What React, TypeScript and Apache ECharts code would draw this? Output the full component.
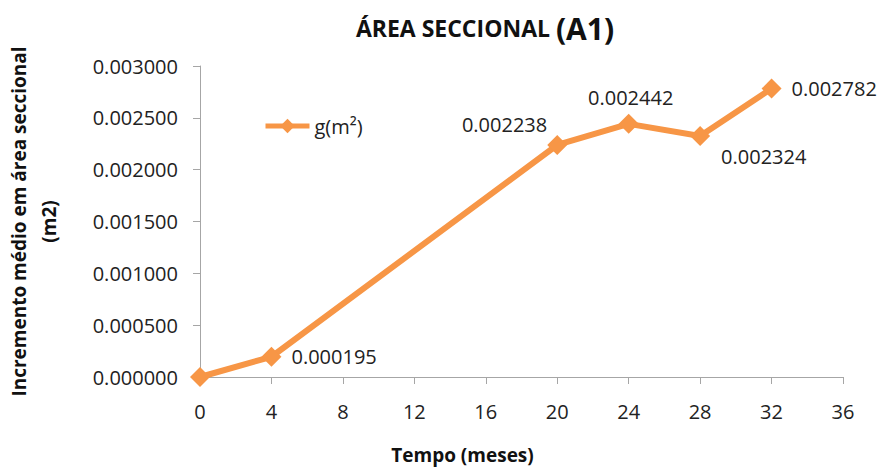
import React, { useEffect, useRef } from "react";
import * as echarts from "echarts";

const months = [0, 4, 20, 24, 28, 32];
const values = [0, 0.000195, 0.002238, 0.002442, 0.002324, 0.002782];
const labelPositions = ["none", "right", "left", "top", "bottomRight", "right"];
const seriesName = "g(m²)";
const titleMain = "ÁREA SECCIONAL ";
const titleSuffix = "(A1)";
const yAxisTitle = "Incremento médio em área seccional\n(m2)";
const xAxisTitle = "Tempo (meses)";

const FONT = "'Open Sans', 'Noto Sans', sans-serif";
const ORANGE = "#f79646";
const AXIS = "#a6a6a6";

export default function App() {
  const ref = useRef<HTMLDivElement>(null);
  useEffect(() => {
    if (!ref.current) return;
    const chart = echarts.init(ref.current, undefined, { renderer: "svg" });
    const data = months.map((m, i) => {
      const pos = labelPositions[i];
      const item: any = { value: [m, values[i]] };
      if (pos === "none") {
        item.label = { show: false };
      } else if (pos === "left") {
        item.label = { show: true, position: "left", distance: 0, offset: [0, -20] };
      } else if (pos === "top") {
        item.label = { show: true, position: "top", distance: 6, offset: [2, 0] };
      } else if (pos === "bottomRight") {
        item.label = { show: true, position: "right", distance: 11, offset: [0, 20] };
      } else {
        item.label = { show: true, position: "right", distance: 10 };
      }
      return item;
    });
    chart.setOption({
      animation: false,
      backgroundColor: "#ffffff",
      title: {
        text: `{a|${titleMain}}{b|${titleSuffix}}`,
        left: 480,
        textAlign: "center",
        top: 8,
        textStyle: {
          rich: {
            a: { fontFamily: FONT, fontSize: 23, fontWeight: "bold", color: "#111" },
            b: { fontFamily: FONT, fontSize: 30, fontWeight: "bold", color: "#111" },
          },
        },
      },
      legend: {
        left: 258,
        top: 111,
        itemWidth: 44,
        itemHeight: 18,
        itemGap: 4,
        lineStyle: { width: 5, color: ORANGE },
        itemStyle: { color: ORANGE },
        textStyle: { fontFamily: FONT, fontSize: 20, color: "#222" },
        data: [seriesName],
      },
      grid: { left: 200, right: 41, top: 66, bottom: 91, outerBoundsMode: "none", containLabel: false },
      xAxis: {
        type: "value",
        min: 0,
        max: 36,
        interval: 4,
        name: xAxisTitle,
        nameLocation: "middle",
        nameGap: 68,
        nameTextStyle: {
          fontFamily: FONT,
          fontSize: 19,
          fontWeight: "bold",
          color: "#111",
          padding: [0, 118, 0, 0],
        },
        axisLine: { lineStyle: { color: AXIS, width: 1 } },
        axisTick: { show: true, length: 7, inside: false, lineStyle: { color: AXIS } },
        axisLabel: { fontFamily: FONT, fontSize: 20, color: "#222", margin: 24 },
        splitLine: { show: false },
      },
      yAxis: {
        type: "value",
        min: 0,
        max: 0.003,
        interval: 0.0005,
        name: yAxisTitle,
        nameLocation: "middle",
        nameGap: 136,
        nameTextStyle: { fontFamily: FONT, fontSize: 19, fontWeight: "bold", color: "#111", lineHeight: 30 },
        axisLine: { show: true, lineStyle: { color: AXIS, width: 1 } },
        axisTick: { show: true, length: 7, lineStyle: { color: AXIS } },
        axisLabel: {
          fontFamily: FONT,
          fontSize: 20,
          color: "#222",
          margin: 22,
          formatter: (v: number) => v.toFixed(6),
        },
        splitLine: { show: false },
      },
      series: [
        {
          name: seriesName,
          type: "line",
          data,
          symbol: "diamond",
          symbolSize: 20,
          itemStyle: { color: ORANGE },
          lineStyle: { color: ORANGE, width: 6 },
          label: {
            fontFamily: FONT,
            fontSize: 20,
            color: "#222",
            formatter: (p: any) => p.value[1].toFixed(6),
          },
        },
      ],
    });
    return () => chart.dispose();
  }, []);
  return <div ref={ref} style={{ width: 884, height: 468, position: "absolute", left: 0, top: 0 }} />;
}
